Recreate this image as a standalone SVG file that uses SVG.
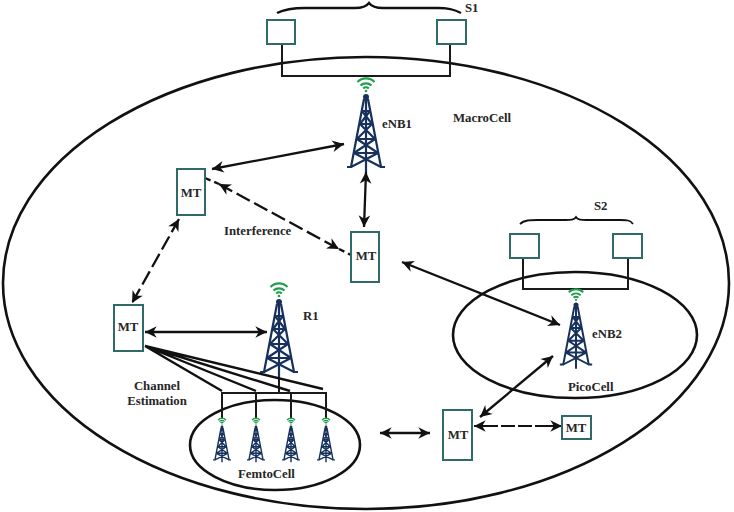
<svg xmlns="http://www.w3.org/2000/svg" width="734" height="512" viewBox="0 0 734 512">
<style>
.cell{fill:none;stroke:#111;stroke-width:2.6}
.box{fill:#fff;stroke:#2f6a68;stroke-width:2}
.bus{fill:none;stroke:#1a1a1a;stroke-width:2}
.brace{fill:none;stroke:#111;stroke-width:1.8}
.brace.big{stroke-width:2.4}
.fan{fill:none;stroke:#111;stroke-width:2.4}
.arrow{fill:none;stroke:#111;stroke-width:2.3;marker-start:url(#head);marker-end:url(#head)}
.dash{stroke-dasharray:15 5}
text{font-family:"Liberation Serif","Times New Roman",serif;font-weight:bold;font-size:12.8px;fill:#262626}
.mid{text-anchor:middle}
.t{fill:none;stroke:#17305c}
.w{fill:none;stroke:#1f9e4d}
</style>
<defs>
<marker id="head" markerUnits="userSpaceOnUse" markerWidth="14" markerHeight="14" refX="11" refY="6" orient="auto-start-reverse" viewBox="0 0 12 12">
<path d="M1 1 L11 6 L1 11 L4 6 Z" fill="#111"/>
</marker>
<g id="tower">
<path class="w" d="M-8.500-15 A12 12 0 0 1 8.500-15 M-5.500-11.500 A8 8 0 0 1 5.500-11.500 M-2.800-8.500 A4 4 0 0 1 2.800-8.500"/>
<circle cx="0" cy="-6" r="1.300" fill="#1f9e4d"/>
<circle cx="0" cy="0" r="3" fill="#17305c"/>
<path class="t" d="M-2 2 L-15 70 M2 2 L15 70 M0 2 V75 M-14 70 H-19 M14 70 H19"/>
<path class="t" d="M-4 14 H4 M-6 27 H6 M-9 42 H9 M-12 56 H12 M-4 14 L6 27 M4 14 L-6 27 M-6 27 L9 42 M6 27 L-9 42 M-9 42 L12 56 M9 42 L-12 56 M-12 56 L15 70 M12 56 L-15 70"/>
</g>
</defs>

<g id="macrocell">
<ellipse class="cell" cx="366" cy="283" rx="363" ry="226"/>
<text x="453" y="122">MacroCell</text>
</g>
<g id="picocell">
<ellipse class="cell" cx="575" cy="335" rx="122" ry="63"/>
<text x="568" y="391">PicoCell</text>
</g>
<g id="femtocell">
<ellipse class="cell" cx="275" cy="445" rx="85" ry="45"/>
<text x="238" y="478">FemtoCell</text>
</g>

<g id="connectors">
<path class="bus" d="M282 44 V76 H450 V44"/>
<path class="bus" d="M523 258 V289 H628 V258"/>
<path class="bus" d="M222 418 V393 H326 V418 M256 393 V418 M291 393 V418 M279 373 V393"/>
<path class="fan" d="M145 346 L222 391 M145 346 L256 391 M145 346 L290 391 M145 346 L323 389"/>
<path class="arrow" d="M212 169 L344 144"/>
<path class="arrow" d="M366 172 L364 227"/>
<path class="arrow dash" d="M219 184 L339 249"/>
<path class="fan" d="M205 178 L219 184 M339 249 L351 255" style="stroke-dasharray:6 4"/>
<path class="arrow dash" d="M179 219 L132 303"/>
<path class="arrow" d="M145 332 L267 332"/>
<path class="arrow" d="M402 262 L560 325"/>
<path class="arrow" d="M553 356 L480 417"/>
<path class="arrow" style="stroke-dasharray:24 3 14 3 14 3 40;stroke-width:1.800" d="M474 426 L562 426"/>
<path class="arrow" d="M380 433 L430 433"/>
</g>

<g id="s1">
<path class="brace big" d="M277 13 C285 9 292 8 305 8 H355 C362 8 366 7 369 3 C372 7 376 8 383 8 H438 C450 8 455 10 461 13"/>
<rect class="box" x="267" y="20" width="28" height="24"/>
<rect class="box" x="437" y="20" width="29" height="24"/>
<text x="465" y="12">S1</text>
</g>
<g id="s2">
<path class="brace" d="M520 224 C524 220 530 220 538 220 H565 C571 220 574 220 576 217 C578 220 581 220 587 220 H620 C627 220 630 220 633 224"/>
<rect class="box" x="510" y="234" width="29" height="24"/>
<rect class="box" x="613" y="234" width="29" height="24"/>
<text x="594" y="210">S2</text>
</g>

<g id="enb1">
<use href="#tower" stroke-width="2.200" transform="translate(366 97)"/>
<text x="382" y="128">eNB1</text>
</g>
<g id="enb2">
<use href="#tower" stroke-width="2.300" transform="translate(576 305) scale(.85)"/>
<text x="592" y="338">eNB2</text>
</g>
<g id="r1">
<use href="#tower" stroke-width="2.200" transform="translate(279 302)"/>
<text x="303" y="320">R1</text>
</g>
<g id="femto1"><use href="#tower" stroke-width="3" transform="translate(222 427) scale(.47)"/></g>
<g id="femto2"><use href="#tower" stroke-width="3" transform="translate(256 427) scale(.47)"/></g>
<g id="femto3"><use href="#tower" stroke-width="3" transform="translate(291 427) scale(.47)"/></g>
<g id="femto4"><use href="#tower" stroke-width="3" transform="translate(326 427) scale(.47)"/></g>

<g id="mt1">
<rect class="box" x="177" y="169" width="28" height="46"/>
<text class="mid" x="191" y="197">MT</text>
</g>
<g id="mt2">
<rect class="box" x="351" y="232" width="28" height="50"/>
<text class="mid" x="366" y="260">MT</text>
</g>
<g id="mt3">
<rect class="box" x="114" y="305" width="29" height="46"/>
<text class="mid" x="128" y="331">MT</text>
</g>
<g id="mt4">
<rect class="box" x="443" y="410" width="29" height="50"/>
<text class="mid" x="458" y="439">MT</text>
</g>
<g id="mt5">
<rect class="box" x="562" y="416" width="29" height="23"/>
<text class="mid" x="576" y="432">MT</text>
</g>

<g id="labels">
<text x="224" y="235">Interference</text>
<text class="mid" x="157" y="390">Channel</text>
<text class="mid" x="157" y="405">Estimation</text>
</g>
</svg>
